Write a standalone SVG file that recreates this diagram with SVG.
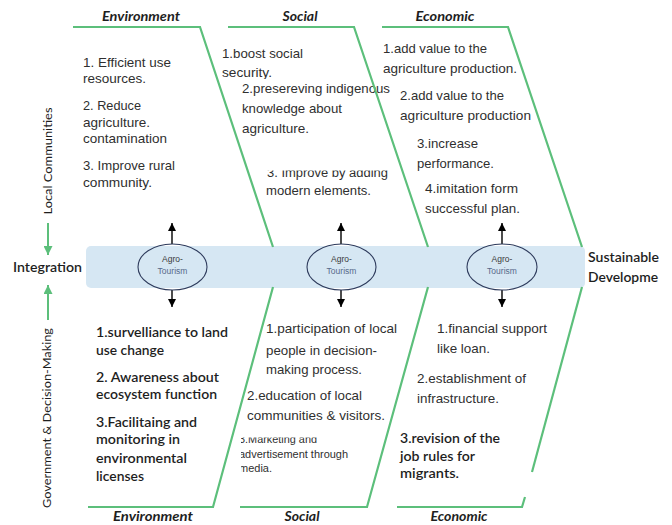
<svg xmlns="http://www.w3.org/2000/svg" width="672" height="525" viewBox="0 0 672 525">
<style>
.bone{fill:none;stroke:#5cbf7b;stroke-width:2.2;stroke-linejoin:miter}
.n{font-family:"Liberation Sans Narrow","Liberation Sans",Arial,sans-serif;font-size:13.5px;fill:#2f2f2f}
.c{font-family:Lato,"Open Sans","Liberation Sans",sans-serif;font-size:13.5px;fill:#1e1e1e;font-weight:600}
.h{font-family:Lato,"Open Sans","Liberation Sans",sans-serif;font-size:13px;font-style:italic;font-weight:bold;fill:#1e1e1e;text-anchor:middle}
.side{font-family:Lato,"Open Sans","Liberation Sans",sans-serif;font-size:12px;fill:#1e1e1e;text-anchor:middle}
.agro{font-family:"Liberation Sans",Arial,sans-serif;font-size:8.5px;text-anchor:middle}
.ell{fill:none;stroke:#2e3b5c;stroke-width:1.1}
.ar{stroke:#000;stroke-width:1.4;fill:none}
.gar{stroke:#5cbf7b;stroke-width:2;fill:none}
</style>
<defs>
<marker id="ah" viewBox="0 0 10 10" refX="10" refY="5" markerUnits="userSpaceOnUse" markerWidth="8" markerHeight="9" orient="auto"><path d="M0,0 L10,5 L0,10 z" fill="#000"/></marker>
<marker id="gh" viewBox="0 0 10 10" refX="10" refY="5" markerUnits="userSpaceOnUse" markerWidth="9" markerHeight="9" orient="auto"><path d="M0,0 L10,5 L0,10 z" fill="#5cbf7b"/></marker>
<clipPath id="clipImp"><rect x="230" y="170.5" width="170" height="40"/></clipPath>
<clipPath id="clipMkt"><rect x="241" y="437.5" width="130" height="45"/></clipPath>
<clipPath id="clipSec"><rect x="215" y="30" width="100" height="49"/></clipPath>
</defs>
<rect width="672" height="525" fill="#fff"/>

<!-- backbone band -->
<g id="band">
<rect x="86" y="246" width="499" height="42" rx="5" fill="#d6e7f3"/>
</g>

<!-- side labels -->
<g id="integration">
<text x="13" y="272" font-family="Lato,'Open Sans','Liberation Sans',sans-serif" font-size="14" font-weight="600" fill="#1e1e1e" textLength="69" lengthAdjust="spacingAndGlyphs">Integration</text>
</g>
<g id="local-communities">
<text class="side" transform="translate(52,161) rotate(-90)" textLength="107" lengthAdjust="spacingAndGlyphs">Local Communities</text>
</g>
<g id="government">
<text class="side" transform="translate(51,418) rotate(-90)" textLength="180" lengthAdjust="spacingAndGlyphs">Government &amp; Decision-Making</text>
</g>
<g id="sustainable">
<text x="588" y="262" font-family="Lato,'Open Sans','Liberation Sans',sans-serif" font-size="14" font-weight="600" fill="#1e1e1e" textLength="71" lengthAdjust="spacingAndGlyphs">Sustainable</text>
<text x="588" y="282" font-family="Lato,'Open Sans','Liberation Sans',sans-serif" font-size="14" font-weight="600" fill="#1e1e1e" textLength="70" lengthAdjust="spacingAndGlyphs">Developme</text>
</g>

<!-- headers -->
<g id="headers">
<text class="h" x="141" y="21" textLength="78" lengthAdjust="spacingAndGlyphs">Environment</text>
<text class="h" x="300" y="21" textLength="35" lengthAdjust="spacingAndGlyphs">Social</text>
<text class="h" x="445" y="21" textLength="59" lengthAdjust="spacingAndGlyphs">Economic</text>
<text class="h" x="153" y="521" textLength="80" lengthAdjust="spacingAndGlyphs">Environment</text>
<text class="h" x="302" y="521" textLength="35" lengthAdjust="spacingAndGlyphs">Social</text>
<text class="h" x="459" y="521" textLength="57" lengthAdjust="spacingAndGlyphs">Economic</text>
</g>

<!-- top environment -->
<g id="env-top" class="n">
<text x="83" y="67" textLength="88" lengthAdjust="spacingAndGlyphs">1. Efficient use</text>
<text x="83" y="83" textLength="63" lengthAdjust="spacingAndGlyphs">resources.</text>
<text x="83" y="110" textLength="58" lengthAdjust="spacingAndGlyphs">2. Reduce</text>
<text x="83" y="127" textLength="67" lengthAdjust="spacingAndGlyphs">agriculture.</text>
<text x="83" y="143" textLength="84" lengthAdjust="spacingAndGlyphs">contamination</text>
<text x="83" y="170" textLength="92" lengthAdjust="spacingAndGlyphs">3. Improve rural</text>
<text x="83" y="187" textLength="69" lengthAdjust="spacingAndGlyphs">community.</text>
</g>

<!-- top social -->
<g id="soc-top" class="n">
<text x="222" y="58" textLength="81" lengthAdjust="spacingAndGlyphs">1.boost social</text>
<text x="222" y="77" textLength="50" lengthAdjust="spacingAndGlyphs" clip-path="url(#clipSec)">security.</text>
<text x="242" y="93" textLength="148" lengthAdjust="spacingAndGlyphs">2.presereving indigenous</text>
<text x="242" y="113" textLength="100" lengthAdjust="spacingAndGlyphs">knowledge about</text>
<text x="242" y="133" textLength="67" lengthAdjust="spacingAndGlyphs">agriculture.</text>
<text x="267" y="177" textLength="121" lengthAdjust="spacingAndGlyphs" clip-path="url(#clipImp)">3. Improve by adding</text>
<text x="266" y="195" textLength="105" lengthAdjust="spacingAndGlyphs">modern elements.</text>
</g>

<!-- top economic -->
<g id="eco-top" class="n">
<text x="383" y="53" textLength="104" lengthAdjust="spacingAndGlyphs">1.add value to the</text>
<text x="383" y="73" textLength="134" lengthAdjust="spacingAndGlyphs">agriculture production.</text>
<text x="400" y="100" textLength="104" lengthAdjust="spacingAndGlyphs">2.add value to the</text>
<text x="400" y="120" textLength="131" lengthAdjust="spacingAndGlyphs">agriculture production</text>
<text x="417" y="148" textLength="61" lengthAdjust="spacingAndGlyphs">3.increase</text>
<text x="417" y="168" textLength="77" lengthAdjust="spacingAndGlyphs">performance.</text>
<text x="425" y="193" textLength="93" lengthAdjust="spacingAndGlyphs">4.imitation form</text>
<text x="425" y="213" textLength="95" lengthAdjust="spacingAndGlyphs">successful plan.</text>
</g>

<!-- bottom environment -->
<g id="env-bottom" class="c">
<text x="96" y="337" textLength="132" lengthAdjust="spacingAndGlyphs">1.survelliance to land</text>
<text x="96" y="355" textLength="68" lengthAdjust="spacingAndGlyphs">use change</text>
<text x="96" y="382" textLength="123" lengthAdjust="spacingAndGlyphs">2. Awareness about</text>
<text x="96" y="399" textLength="121" lengthAdjust="spacingAndGlyphs">ecosystem function</text>
<text x="96" y="427" textLength="101" lengthAdjust="spacingAndGlyphs">3.Facilitaing and</text>
<text x="96" y="444" textLength="84" lengthAdjust="spacingAndGlyphs">monitoring in</text>
<text x="96" y="463" textLength="91" lengthAdjust="spacingAndGlyphs">environmental</text>
<text x="96" y="481" textLength="48" lengthAdjust="spacingAndGlyphs">licenses</text>
</g>

<!-- bottom social -->
<g id="soc-bottom" class="n">
<text x="266" y="333" textLength="131" lengthAdjust="spacingAndGlyphs">1.participation of local</text>
<text x="266" y="355" textLength="111" lengthAdjust="spacingAndGlyphs">people in decision-</text>
<text x="266" y="374" textLength="96" lengthAdjust="spacingAndGlyphs">making process.</text>
<text x="247" y="400" textLength="115" lengthAdjust="spacingAndGlyphs">2.education of local</text>
<text x="247" y="420" textLength="138" lengthAdjust="spacingAndGlyphs">communities &amp; visitors.</text>
<g clip-path="url(#clipMkt)" style="font-size:11px">
<text x="239" y="443" textLength="78" lengthAdjust="spacingAndGlyphs">3.Marketing and</text>
<text x="239" y="458" textLength="109" lengthAdjust="spacingAndGlyphs">advertisement through</text>
<text x="239" y="472" textLength="33" lengthAdjust="spacingAndGlyphs">media.</text>
</g>
</g>

<!-- bottom economic -->
<g id="eco-bottom">
<g class="n">
<text x="437" y="333" textLength="110" lengthAdjust="spacingAndGlyphs">1.financial support</text>
<text x="437" y="353" textLength="53" lengthAdjust="spacingAndGlyphs">like loan.</text>
<text x="417" y="383" textLength="109" lengthAdjust="spacingAndGlyphs">2.establishment of</text>
<text x="417" y="403" textLength="82" lengthAdjust="spacingAndGlyphs">infrastructure.</text>
</g>
<g class="c">
<text x="400" y="443" textLength="100" lengthAdjust="spacingAndGlyphs">3.revision of the</text>
<text x="400" y="461" textLength="75" lengthAdjust="spacingAndGlyphs">job rules for</text>
<text x="400" y="478" textLength="59" lengthAdjust="spacingAndGlyphs">migrants.</text>
</g>
</g>

<!-- connectors -->
<g id="connectors">
<polyline class="bone" points="73,27 200,27 273,247"/>
<polyline class="bone" points="228,27 354,27 428,247"/>
<polyline class="bone" points="382,27 508,27 582,247"/>
<polyline class="bone" points="273,287 213,507 88,507"/>
<polyline class="bone" points="428,287 367,507 240,507"/>
<polyline class="bone" points="582,287 532,472"/>
<polyline class="bone" points="525,497 522,507 397,507"/>
<line class="gar" x1="48" y1="223" x2="48" y2="255" marker-end="url(#gh)"/>
<line class="gar" x1="48" y1="320" x2="48" y2="285" marker-end="url(#gh)"/>
<line class="ar" x1="172" y1="244" x2="172" y2="223" marker-end="url(#ah)"/>
<line class="ar" x1="172" y1="290" x2="172" y2="307" marker-end="url(#ah)"/>
<line class="ar" x1="341" y1="244" x2="341" y2="223" marker-end="url(#ah)"/>
<line class="ar" x1="341" y1="290" x2="341" y2="307" marker-end="url(#ah)"/>
<line class="ar" x1="502" y1="244" x2="502" y2="223" marker-end="url(#ah)"/>
<line class="ar" x1="502" y1="290" x2="502" y2="307" marker-end="url(#ah)"/>
</g>

<!-- agro-tourism nodes -->
<g id="agro1">
<ellipse class="ell" cx="172.5" cy="267" rx="34.5" ry="23"/>
<text class="agro" x="172.5" y="262" fill="#3a3a3a">Agro-</text>
<text class="agro" x="172.5" y="274" fill="#56698a">Tourism</text>
</g>
<g id="agro2">
<ellipse class="ell" cx="341.5" cy="267" rx="34.5" ry="23"/>
<text class="agro" x="341.5" y="262" fill="#3a3a3a">Agro-</text>
<text class="agro" x="341.5" y="274" fill="#56698a">Tourism</text>
</g>
<g id="agro3">
<ellipse class="ell" cx="502" cy="267" rx="35" ry="23"/>
<text class="agro" x="502" y="262" fill="#3a3a3a">Agro-</text>
<text class="agro" x="502" y="274" fill="#56698a">Tourism</text>
</g>
</svg>
